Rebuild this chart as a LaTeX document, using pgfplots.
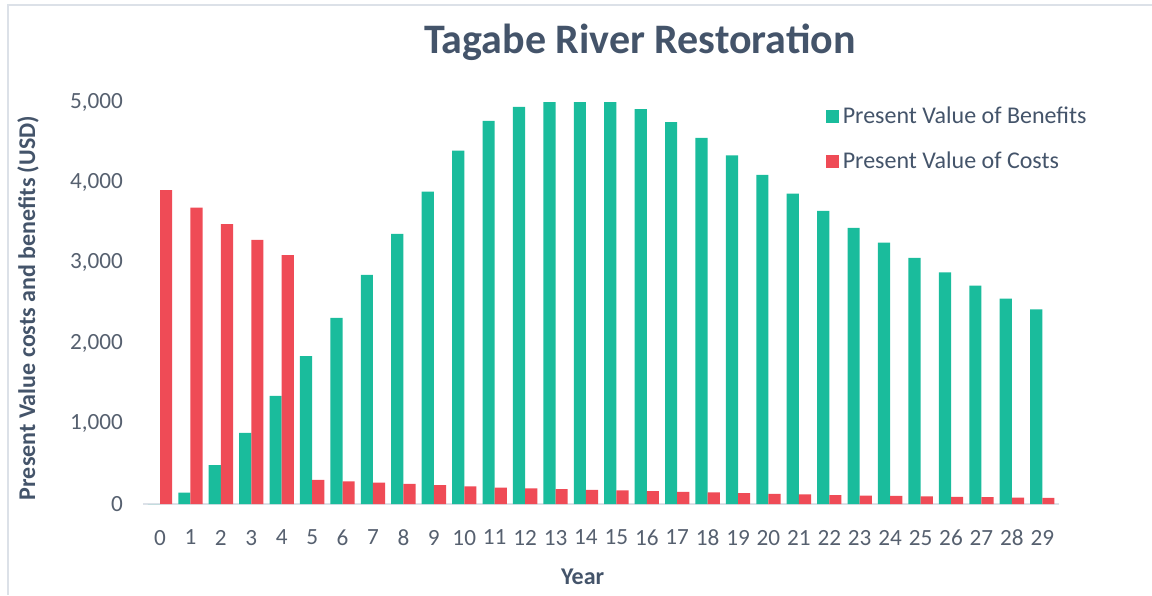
\documentclass[border=0pt]{standalone}
\usepackage{fontspec}
\setmainfont{Carlito}
\usepackage{pgfplots}
\usepackage{pgfplotstable}
\pgfplotsset{compat=1.18}
\usetikzlibrary{calc}
\definecolor{benefit}{HTML}{1ABC9C}
\definecolor{cost}{HTML}{EF4B56}
\definecolor{txt}{HTML}{44546A}
\definecolor{ticktxt}{HTML}{56606F}
\definecolor{framegray}{HTML}{DCE1E8}

\pgfplotstableread{
year benefit cost
0  0    3905
1  140  3685
2  485  3480
3  885  3285
4  1345 3095
5  1840 300
6  2315 280
7  2850 265
8  3360 250
9  3885 235
10 4395 220
11 4765 205
12 4940 195
13 5000 185
14 5000 175
15 5000 170
16 4910 160
17 4750 150
18 4555 145
19 4335 135
20 4095 125
21 3860 120
22 3645 110
23 3435 105
24 3250 100
25 3060 95
26 2880 90
27 2715 85
28 2555 80
29 2420 75
}\pvdata

\begin{document}
\begin{tikzpicture}
\begin{axis}[
  scale only axis, width=458pt, height=201pt,
  ybar=0pt, bar width=0.4,
  xmin=-0.56, xmax=29.55, ymin=0, ymax=5000,
  axis x line=bottom, axis y line=left,
  x axis line style={-, draw=framegray, line width=1pt},
  y axis line style={draw=none},
  major tick length=0pt, tick style={draw=none},
  xtick={0,...,29}, ytick={0,1000,...,5000},
  tick label style={font=\fontsize{11.6}{13}\selectfont, text=ticktxt},
  xticklabel style={yshift=-9.5pt},
  yticklabel style={xshift=-6.5pt},
  /pgf/number format/1000 sep={,},
  /pgf/number format/assume math mode=true,
  title={Tagabe River Restoration},
  title style={font=\bfseries\fontsize{21}{24}\selectfont, text=txt,
    at={(axis description cs:0.5426,1.092)}, anchor=base},
  xlabel={Year},
  xlabel style={font=\bfseries\fontsize{12}{14}\selectfont, text=txt,
    at={(axis description cs:0.48,-0.1816)}, anchor=center},
  ylabel={Present Value costs and benefits (USD)},
  ylabel style={font=\bfseries\fontsize{12}{14}\selectfont, text=txt,
    at={(axis description cs:-0.1256,0.4876)}, anchor=center},
  legend style={at={(rel axis cs:0.745,1)}, anchor=north west,
    draw=none, fill=none, font=\fontsize{12}{14}\selectfont, text=txt,
    row sep=9pt, inner sep=0pt, cells={anchor=west}},
  legend image code/.code={\fill[#1] (0pt,-3.25pt) rectangle (6.5pt,3.25pt);},
]
\addplot[fill=benefit, draw=none] table[x=year, y=benefit] {\pvdata};
\addplot[fill=cost, draw=none] table[x=year, y=cost] {\pvdata};
\legend{Present Value of Benefits, Present Value of Costs}
\coordinate (o) at (rel axis cs:0,0);
\end{axis}
\pgfresetboundingbox
\path[use as bounding box] ($(o)+(-71.5pt,-45.5pt)$) rectangle ++(576pt,297.5pt);
\draw[framegray, line width=0.8pt] ($(o)+(-67.5pt,-45.5pt)$) -- ++(0,295pt) -- ++(572pt,0);
\end{tikzpicture}
\end{document}
